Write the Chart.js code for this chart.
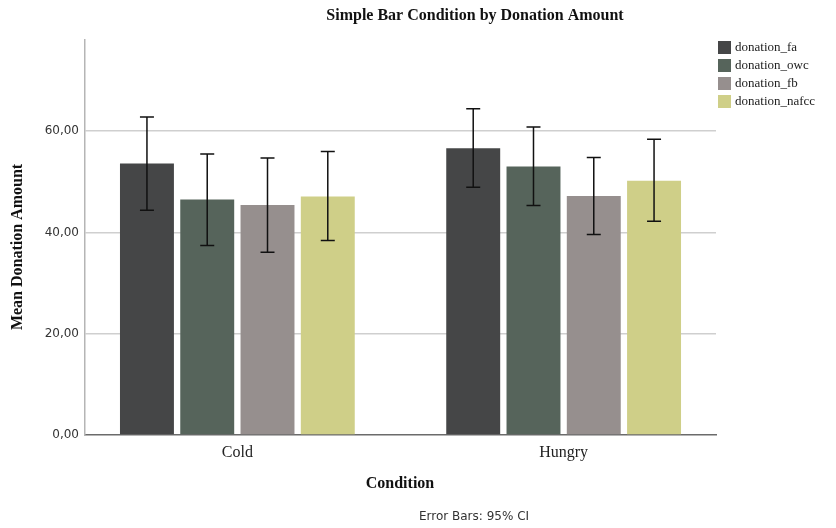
<!DOCTYPE html>
<html>
<head>
<meta charset="utf-8">
<script src="https://cdn.jsdelivr.net/npm/chart.js@4.4.1/dist/chart.umd.min.js"></script>
<style>
  html, body { margin: 0; padding: 0; background: #fff; }
  #wrap { width: 836px; height: 528px; }
</style>
</head>
<body>
<div id="wrap"><canvas id="barChart" width="836" height="528"></canvas></div>
<script>
// Data
const categories = ["Cold", "Hungry"];
const seriesNames = ["donation_fa", "donation_owc", "donation_fb", "donation_nafcc"];
const donationFa = [53.6, 56.6];
const donationOwc = [46.5, 53.0];
const donationFb = [45.4, 47.2];
const donationNafcc = [47.1, 50.2];
// 95% CI bounds [low, high] per category
const ciFa = [[44.4, 62.8], [48.9, 64.4]];
const ciOwc = [[37.4, 55.5], [45.3, 60.8]];
const ciFb = [[36.1, 54.7], [39.6, 54.8]];
const ciNafcc = [[38.4, 56.0], [42.2, 58.4]];
const yTicks = [0, 20, 40, 60];

const colors = {
  fa: "#454647",
  owc: "#56645b",
  fb: "#968f8e",
  nafcc: "#cfcf88",
  grid: "#cfcfcf",
  axis: "#6b6b6b",
  text: "#222222",
};

const serif = "'Liberation Serif', 'Times New Roman', serif";
const sans = "'DejaVu Sans', Verdana, sans-serif";

const seriesValues = [donationFa, donationOwc, donationFb, donationNafcc];
const seriesCI = [ciFa, ciOwc, ciFb, ciNafcc];
const seriesColors = [colors.fa, colors.owc, colors.fb, colors.nafcc];

const datasets = seriesNames.map((name, i) => ({
  label: name,
  data: seriesValues[i].map((v, j) => ({ x: j, y: v })),
  ci: seriesCI[i],
  backgroundColor: seriesColors[i],
  borderWidth: 0,
  categoryPercentage: 0.739,
  barPercentage: 0.895,
}));

// error bars, titles, legend and footnote
const extras = {
  id: "extras",
  afterDatasetsDraw(chart) {
    const { ctx, scales } = chart;
    ctx.save();
    ctx.strokeStyle = "#111";
    ctx.lineWidth = 1.5;
    chart.data.datasets.forEach((ds, i) => {
      const meta = chart.getDatasetMeta(i);
      meta.data.forEach((bar, j) => {
        const [lo, hi] = ds.ci[j];
        const yLo = scales.y.getPixelForValue(lo);
        const yHi = scales.y.getPixelForValue(hi);
        const x = bar.x;
        ctx.beginPath();
        ctx.moveTo(x, yLo); ctx.lineTo(x, yHi);
        ctx.moveTo(x - 7, yLo); ctx.lineTo(x + 7, yLo);
        ctx.moveTo(x - 7, yHi); ctx.lineTo(x + 7, yHi);
        ctx.stroke();
      });
    });
    ctx.restore();
  },
  afterDraw(chart) {
    const { ctx } = chart;
    ctx.save();
    ctx.fillStyle = "#111";
    ctx.textAlign = "center";
    ctx.textBaseline = "middle";
    ctx.font = "bold 16px " + serif;
    ctx.fillText("Simple Bar Condition by Donation Amount", 475, 16);
    ctx.fillText("Condition", 400, 484);

    ctx.save();
    ctx.translate(18, 247);
    ctx.rotate(-Math.PI / 2);
    ctx.fillText("Mean Donation Amount", 0, 0);
    ctx.restore();

    ctx.font = "12px " + sans;
    ctx.fillStyle = "#333";
    ctx.fillText("Error Bars: 95% CI", 474, 517);

    // legend
    ctx.textAlign = "left";
    ctx.font = "13px " + serif;
    chart.data.datasets.forEach((ds, i) => {
      const y = 47 + i * 18;
      ctx.fillStyle = ds.backgroundColor;
      ctx.fillRect(718, y - 6, 13, 13);
      ctx.fillStyle = "#222";
      ctx.fillText(ds.label, 735, y + 1);
    });
    ctx.restore();
  },
};

new Chart(document.getElementById("barChart"), {
  type: "bar",
  data: { datasets },
  options: {
    responsive: false,
    animation: false,
    events: [],
    layout: { padding: { left: 0, right: 120, top: 40, bottom: 0 } },
    plugins: {
      legend: { display: false },
      tooltip: { enabled: false },
      title: { display: false },
    },
    scales: {
      x: {
        type: "linear",
        min: -0.467,
        max: 1.467,
        offset: false,
        afterFit: (s) => { s.height = 93; },
        afterBuildTicks: (s) => { s.ticks = categories.map((c, i) => ({ value: i })); },
        grid: { display: false, drawTicks: false, offset: false },
        border: { display: true, color: colors.axis, width: 1.5 },
        ticks: {
          autoSkip: false,
          maxRotation: 0,
          padding: 8,
          color: "#222",
          font: { family: serif, size: 16 },
          callback: (v) => (categories[v] !== undefined ? categories[v] : ""),
        },
      },
      y: {
        min: 0,
        max: 78,
        afterFit: (s) => { s.width = 85; },
        afterBuildTicks: (s) => { s.ticks = yTicks.map((v) => ({ value: v })); },
        grid: {
          color: (c) => (c.tick && c.tick.value === 0 ? "rgba(0,0,0,0)" : colors.grid),
          lineWidth: 1.5,
          drawTicks: false,
        },
        border: { display: true, color: "#b5b5b5", width: 1.5 },
        ticks: {
          padding: 6,
          color: "#333",
          font: { family: sans, size: 12 },
          callback: (v) => v.toFixed(2).replace(".", ","),
        },
      },
    },
  },
  plugins: [extras],
});
</script>
</body>
</html>
